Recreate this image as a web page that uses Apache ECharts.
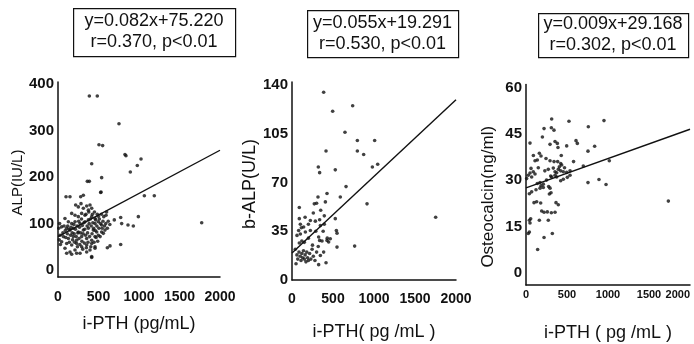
<!DOCTYPE html>
<html>
<head>
<meta charset="utf-8">
<script src="https://cdn.jsdelivr.net/npm/echarts@6/dist/echarts.min.js"></script>
<style>
html,body{margin:0;padding:0;background:#fff;}
#c{width:694px;height:344px;}
</style>
</head>
<body>
<div id="c"></div>
<script>
// ---------- data ----------
const xTicks = [0, 500, 1000, 1500, 2000];
const alpTicks = [0, 100, 200, 300, 400];
const balpTicks = [0, 35, 70, 105, 140];
const ostTicks = [0, 15, 30, 45, 60];

const xNames = ['i-PTH (pg/mL)', 'i-PTH( pg /mL )', 'i-PTH ( pg /mL )'];
const yNames = ['ALP(IU/L)', 'b-ALP(U/L)', 'Osteocalcin(ng/ml)'];
const boxLine1 = ['y=0.082x+75.220', 'y=0.055x+19.291', 'y=0.009x+29.168'];
const boxLine2 = ['r=0.370, p<0.01', 'r=0.530, p<0.01', 'r=0.302, p<0.01'];

// regression line end points as drawn
const alpLine = [[0, 72], [2000, 258]];
const balpLine = [[0, 19.3], [2000, 129.3]];
const ostLine = [[0, 27.5], [2000, 46.5]];

const alpPoints = [
 [387,375],[485,375],[753,315],[506,270],[551,268],[839,246],[827,249],[1025,239],[979,225],[893,211],
 [416,229],[539,199],[362,191],[387,191],[527,167],[99,158],[148,158],[280,158],[313,161],[531,168],
 [1066,160],[1189,160],[1774,102],[774,113],[992,115],[864,97],[930,95],[774,55],[642,52],[609,48],
 [593,118],[695,108],[416,27],[786,100],
 [218,140],[251,136],[284,143],[313,133],[354,138],[375,129],[395,140],[416,133],
 [169,122],[210,118],[251,115],[292,122],[333,118],[416,115],[457,111],[498,116],
 [86,111],[128,104],[169,100],[210,104],[272,100],[333,104],[375,108],[457,100],[498,104],[539,97],
 [45,93],[107,90],[148,86],[189,90],[251,82],[313,86],[375,90],[436,86],[478,82],[539,82],[580,86],
 [25,75],[66,72],[128,68],[189,72],[230,64],[292,72],[354,68],[416,64],[457,72],[498,75],[560,79],
 [45,61],[107,57],[169,54],[230,57],[292,50],[354,54],[416,57],[457,50],
 [86,47],[148,39],[210,43],[272,36],[354,39],[395,43],[457,47],
 [107,36],[169,34],[230,36],[416,29],
 [60,80],[75,95],[90,85],[95,70],[115,78],[120,95],[135,88],[140,60],[155,75],[160,92],
 [175,80],[180,65],[195,98],[200,78],[205,60],[215,88],[225,72],[235,95],[240,50],[245,80],
 [255,105],[260,68],[265,92],[270,55],[280,80],[290,110],[295,62],[300,96],[305,45],[310,78],
 [320,102],[325,58],[330,88],[340,75],[345,120],[350,48],[360,95],[365,80],[370,60],[380,125],
 [385,100],[390,72],[400,110],[405,50],[410,95],[420,78],[425,120],[430,102],[440,90],[445,60],
 [450,125],[460,85],[465,108],[470,70],[480,95],[485,120],[490,62],[505,90],[510,110],[520,72],
 [525,100],[535,120],[545,90],[555,105],[565,115],[575,95],[590,100],[600,125],[610,90],[620,105],
 [640,98],[20,100],[10,90],[30,55],[15,65]
];

const balpPoints = [
 [386,134.7],[496,121],[740,125],[646,106],[797,100],[1008,100],[797,92.5],[874,90],[415,92.5],[321,81],
 [337,77],[528,79],[980,81],[1045,83],[659,67],[427,62],[317,59.5],[589,59.5],[272,54.6],[407,56],
 [915,54.6],[89,52],[1752,45],[394,46],[528,44],[89,44],[102,40],
 [224,42.7],[285,42.2],[337,43.2],[142,38],[114,37.5],[346,39],[394,40],[224,35.5],[163,34.4],[102,33],
 [541,35.5],[549,33.6],[81,35.5],[61,32],[325,30.8],[337,28.4],[366,28],[427,28.4],[447,27.2],[467,29.6],
 [549,23.6],[764,24.3],[89,26.5],[346,17.6],[386,20],[49,11.7],[325,11],[415,12.4],
 [40,22],[60,18],[70,15],[85,20],[100,17],[110,14],[120,19],[130,16],[140,21],[150,15],
 [160,18],[170,13],[180,20],[190,16],[200,14],[215,19],[230,15],[245,22],[260,17],[280,14],
 [300,20],[320,24],[150,27],[250,25],[290,35],[380,35],[430,30],[160,45],[200,40],[350,50],
 [120,28],[260,48],[300,55],[200,30]
];

const ostPoints = [
 [313,49.8],[524,49.1],[951,49.3],[309,47],[341,46.2],[220,46.7],[760,47.3],[49,42],[293,41.6],[382,41.9],
 [390,40.6],[354,42.5],[496,41.1],[610,42.8],[626,41.9],[837,41],[756,39.4],[163,38.7],[183,37.8],[110,36.3],
 [138,36.5],[244,37],[293,36.3],[342,36],[386,36],[423,35.4],[435,34.9],[407,34.3],[1016,36.3],[699,34.6],
 [272,33.5],[333,33.9],[61,33.8],[89,32.7],[110,32],[49,32.3],[354,32.7],[374,32.4],[394,33.5],[423,33],
 [455,32.7],[496,32.5],[537,33],[374,31],[354,31.6],[301,31.3],[313,31],[537,31.6],[504,30.9],[69,31],
 [28,31.6],[8,30.5],[171,29.2],[211,28.7],[138,28.9],[423,29.8],[455,30.3],[756,29.2],[890,30.2],[976,28.6],
 [276,27.9],[293,27.4],[183,28.2],[211,27.6],[41,25.6],[69,26.2],[122,26.9],[171,27.4],[285,25.5],[305,25.9],
 [98,22.7],[130,23],[179,22.6],[366,22.7],[394,22],[191,20],[220,19.6],[260,19.7],[309,19.4],[354,19.6],
 [41,17],[57,17.5],[49,16.1],[163,17],[272,17],[41,13.2],[28,12.7],[220,11.4],[321,12.7],[142,7.5],
 [1736,23.2],[470,34],[580,36],[250,30],[150,34],[90,38],[200,44],[430,38],[230,33]
];

// ---------- chart ----------
const FONT = 'Liberation Sans, Arial, sans-serif';
const ink = '#111';
const chart = echarts.init(document.getElementById('c'), null, {renderer: 'canvas'});

const grids = [
  {left: 58, top: 82, width: 162, height: 195, outerBoundsMode: 'none', containLabel: false},
  {left: 292, top: 82, width: 164, height: 198, outerBoundsMode: 'none', containLabel: false},
  {left: 526, top: 84.5, width: 164, height: 200.5, outerBoundsMode: 'none', containLabel: false}
];
const yRanges = [[-15, 405], [0, 142], [-4, 61]];
const yTickSets = [alpTicks, balpTicks, ostTicks];
const yNameSize = [15, 18, 17];
const yNameGap = [33, 30, 29];
const yNamePad = [[0, 6, 0, 0], [0, 6, 0, 0], [0, 24, 0, 0]];
const xNameGap = [38, 43, 39];
const xLabelMargin = [13, 12, 4];
const xLabelSize = [14, 14, 11];

const xAxes = grids.map((g, i) => ({
  gridIndex: i, type: 'value', min: 0, max: 2000,
  name: xNames[i], nameLocation: 'middle', nameGap: xNameGap[i],
  nameTextStyle: {fontFamily: FONT, fontSize: 18, color: ink},
  axisLine: {show: true, onZero: false, lineStyle: {color: ink, width: 1.5}},
  axisTick: {show: false},
  splitLine: {show: false},
  axisLabel: {customValues: xTicks, formatter: v => String(v), hideOverlap: false,
    fontFamily: FONT, fontSize: xLabelSize[i], fontWeight: 'bold', color: ink,
    margin: xLabelMargin[i], alignMaxLabel: i === 2 ? 'right' : 'center', showMaxLabel: true, showMinLabel: true}
}));
const yAxes = grids.map((g, i) => ({
  gridIndex: i, type: 'value', min: yRanges[i][0], max: yRanges[i][1],
  name: yNames[i], nameLocation: 'middle', nameRotate: 90, nameGap: yNameGap[i],
  nameTextStyle: {fontFamily: FONT, fontSize: yNameSize[i], color: ink, padding: yNamePad[i]},
  axisLine: {show: true, onZero: false, lineStyle: {color: ink, width: 1.5}},
  axisTick: {show: false},
  splitLine: {show: false},
  axisLabel: {customValues: yTickSets[i], formatter: v => String(v), hideOverlap: false,
    fontFamily: FONT, fontSize: 15, fontWeight: 'bold', color: ink, margin: 4}
}));

const pointSets = [alpPoints, balpPoints, ostPoints];
const lineSets = [alpLine, balpLine, ostLine];
const series = [];
pointSets.forEach((pts, i) => {
  series.push({type: 'scatter', xAxisIndex: i, yAxisIndex: i, data: pts, symbol: 'circle', symbolSize: 3.6,
    itemStyle: {color: ink}, silent: true});
  series.push({type: 'line', xAxisIndex: i, yAxisIndex: i, data: lineSets[i], symbol: 'none',
    lineStyle: {color: ink, width: 1.4}, silent: true});
});

const boxes = [
  {x: 73, y: 8, w: 162, h: 48},
  {x: 307, y: 10, w: 151, h: 47},
  {x: 538, y: 13, w: 150, h: 44}
];
const graphic = [];
boxes.forEach((b, i) => {
  graphic.push({type: 'rect', left: b.x, top: b.y, shape: {width: b.w, height: b.h},
    style: {fill: '#fff', stroke: ink, lineWidth: 1.2}, z: 10});
  graphic.push({type: 'text', x: b.x + b.w / 2, y: b.y + b.h / 2, z: 11,
    style: {text: boxLine1[i] + '\n' + boxLine2[i], align: 'center', verticalAlign: 'middle',
      font: '18px ' + FONT, fill: ink, lineHeight: 21}});
});

chart.setOption({
  animation: false,
  backgroundColor: '#fff',
  grid: grids,
  xAxis: xAxes,
  yAxis: yAxes,
  series: series,
  graphic: graphic
});
</script>
</body>
</html>
